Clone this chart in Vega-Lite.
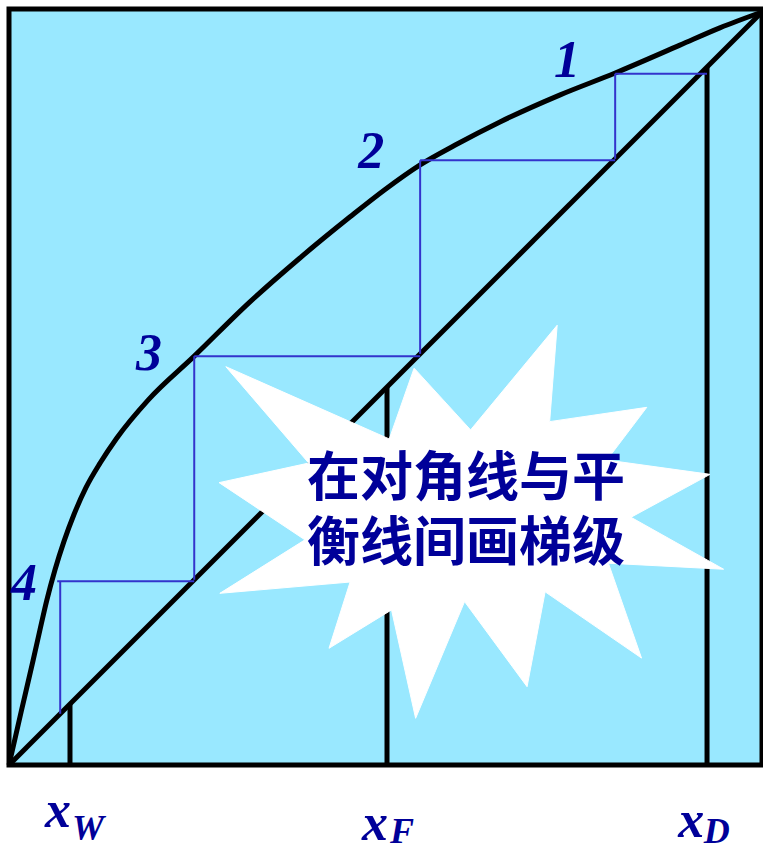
{
  "$schema": "https://vega.github.io/schema/vega-lite/v6.json",
  "width": 753,
  "height": 756,
  "autosize": "none",
  "padding": {"left": 9, "top": 9, "right": 1, "bottom": 86},
  "background": "white",
  "view": {"fill": "#99E8FF", "stroke": "black", "strokeWidth": 5},
  "datasets": {
    "curve": [
      {"i": 0, "x": 0, "y": 0},
      {"i": 1, "x": 0.016, "y": 0.07},
      {"i": 2, "x": 0.032, "y": 0.139},
      {"i": 3, "x": 0.041, "y": 0.179},
      {"i": 4, "x": 0.05, "y": 0.218},
      {"i": 5, "x": 0.061, "y": 0.259},
      {"i": 6, "x": 0.073, "y": 0.297},
      {"i": 7, "x": 0.086, "y": 0.332},
      {"i": 8, "x": 0.102, "y": 0.368},
      {"i": 9, "x": 0.121, "y": 0.401},
      {"i": 10, "x": 0.143, "y": 0.434},
      {"i": 11, "x": 0.185, "y": 0.485},
      {"i": 12, "x": 0.246, "y": 0.543},
      {"i": 13, "x": 0.32, "y": 0.615},
      {"i": 14, "x": 0.386, "y": 0.673},
      {"i": 15, "x": 0.453, "y": 0.728},
      {"i": 16, "x": 0.499, "y": 0.764},
      {"i": 17, "x": 0.546, "y": 0.797},
      {"i": 18, "x": 0.592, "y": 0.823},
      {"i": 19, "x": 0.652, "y": 0.854},
      {"i": 20, "x": 0.732, "y": 0.89},
      {"i": 21, "x": 0.805, "y": 0.919},
      {"i": 22, "x": 0.891, "y": 0.956},
      {"i": 23, "x": 0.944, "y": 0.979},
      {"i": 24, "x": 1, "y": 1}
    ],
    "black": [
      {"x": 0, "y": 0, "x2": 1, "y2": 1},
      {"x": 0.081, "y": 0, "x2": 0.081, "y2": 0.081},
      {"x": 0.502, "y": 0, "x2": 0.502, "y2": 0.502},
      {"x": 0.927, "y": 0, "x2": 0.927, "y2": 0.927}
    ],
    "steps": [
      {"x": 0.805, "y": 0.918, "x2": 0.927, "y2": 0.918},
      {"x": 0.805, "y": 0.918, "x2": 0.805, "y2": 0.805},
      {"x": 0.546, "y": 0.803, "x2": 0.805, "y2": 0.803},
      {"x": 0.546, "y": 0.803, "x2": 0.546, "y2": 0.546},
      {"x": 0.246, "y": 0.543, "x2": 0.546, "y2": 0.543},
      {"x": 0.246, "y": 0.543, "x2": 0.246, "y2": 0.246},
      {"x": 0.064, "y": 0.244, "x2": 0.246, "y2": 0.244},
      {"x": 0.068, "y": 0.244, "x2": 0.068, "y2": 0.068}
    ],
    "star": [
      {"i": 0, "x": 0.288, "y": 0.529},
      {"i": 1, "x": 0.505, "y": 0.433},
      {"i": 2, "x": 0.538, "y": 0.527},
      {"i": 3, "x": 0.613, "y": 0.445},
      {"i": 4, "x": 0.728, "y": 0.584},
      {"i": 5, "x": 0.718, "y": 0.456},
      {"i": 6, "x": 0.847, "y": 0.475},
      {"i": 7, "x": 0.794, "y": 0.405},
      {"i": 8, "x": 0.931, "y": 0.386},
      {"i": 9, "x": 0.826, "y": 0.329},
      {"i": 10, "x": 0.949, "y": 0.26},
      {"i": 11, "x": 0.796, "y": 0.268},
      {"i": 12, "x": 0.84, "y": 0.142},
      {"i": 13, "x": 0.712, "y": 0.23},
      {"i": 14, "x": 0.688, "y": 0.104},
      {"i": 15, "x": 0.605, "y": 0.217},
      {"i": 16, "x": 0.54, "y": 0.062},
      {"i": 17, "x": 0.508, "y": 0.206},
      {"i": 18, "x": 0.425, "y": 0.155},
      {"i": 19, "x": 0.453, "y": 0.243},
      {"i": 20, "x": 0.28, "y": 0.228},
      {"i": 21, "x": 0.393, "y": 0.299},
      {"i": 22, "x": 0.279, "y": 0.375},
      {"i": 23, "x": 0.398, "y": 0.401},
      {"i": 24, "x": 0.288, "y": 0.529}
    ],
    "nums": [
      {"t": "1", "x": 0.741, "y": 0.914},
      {"t": "2", "x": 0.481, "y": 0.793},
      {"t": "3", "x": 0.186, "y": 0.525},
      {"t": "4", "x": 0.020, "y": 0.219}
    ],
    "xs": [
      {"t": "x", "x": 0.065, "y": -0.082},
      {"t": "x", "x": 0.486, "y": -0.1},
      {"t": "x", "x": 0.906, "y": -0.096}
    ],
    "subs": [
      {"t": "W", "x": 0.105, "y": -0.1},
      {"t": "F", "x": 0.522, "y": -0.103},
      {"t": "D", "x": 0.94, "y": -0.103}
    ],
    "note": [
      {"t": "在对角线与平\n衡线间画梯级", "x": 0.607, "y": 0.378}
    ]
  },
  "encoding": {
    "x": {"field": "x", "type": "quantitative", "scale": {"domain": [0, 1], "nice": false, "zero": false}, "axis": null},
    "y": {"field": "y", "type": "quantitative", "scale": {"domain": [0, 1.004], "nice": false, "zero": false}, "axis": null}
  },
  "layer": [
    {
      "data": {"name": "black"},
      "mark": {"type": "rule", "color": "black", "strokeWidth": 5},
      "encoding": {"x2": {"field": "x2"}, "y2": {"field": "y2"}}
    },
    {
      "data": {"name": "curve"},
      "mark": {"type": "line", "color": "black", "strokeWidth": 5, "interpolate": "monotone"},
      "encoding": {"order": {"field": "i", "type": "quantitative"}}
    },
    {
      "data": {"name": "steps"},
      "mark": {"type": "rule", "color": "#3333CC", "strokeWidth": 2},
      "encoding": {"x2": {"field": "x2"}, "y2": {"field": "y2"}}
    },
    {
      "data": {"name": "star"},
      "mark": {"type": "line", "fill": "white", "stroke": "white", "strokeWidth": 1, "interpolate": "linear"},
      "encoding": {"order": {"field": "i", "type": "quantitative"}}
    },
    {
      "data": {"name": "nums"},
      "mark": {"type": "text", "font": "Liberation Serif", "fontSize": 52, "fontWeight": "bold", "fontStyle": "italic", "color": "#000099", "align": "center", "baseline": "alphabetic"},
      "encoding": {"text": {"field": "t"}}
    },
    {
      "data": {"name": "xs"},
      "mark": {"type": "text", "font": "Liberation Serif", "fontSize": 52, "fontWeight": "bold", "fontStyle": "italic", "color": "#000099", "align": "center", "baseline": "alphabetic"},
      "encoding": {"text": {"field": "t"}}
    },
    {
      "data": {"name": "subs"},
      "mark": {"type": "text", "font": "Liberation Serif", "fontSize": 36, "fontWeight": "bold", "fontStyle": "italic", "color": "#000099", "align": "center", "baseline": "alphabetic"},
      "encoding": {"text": {"field": "t"}}
    },
    {
      "data": {"name": "note"},
      "mark": {"type": "text", "font": "Noto Sans CJK SC", "fontSize": 53, "fontWeight": "bold", "color": "#000099", "align": "center", "baseline": "middle", "lineBreak": "\n", "lineHeight": 65},
      "encoding": {"text": {"field": "t"}}
    }
  ]
}
